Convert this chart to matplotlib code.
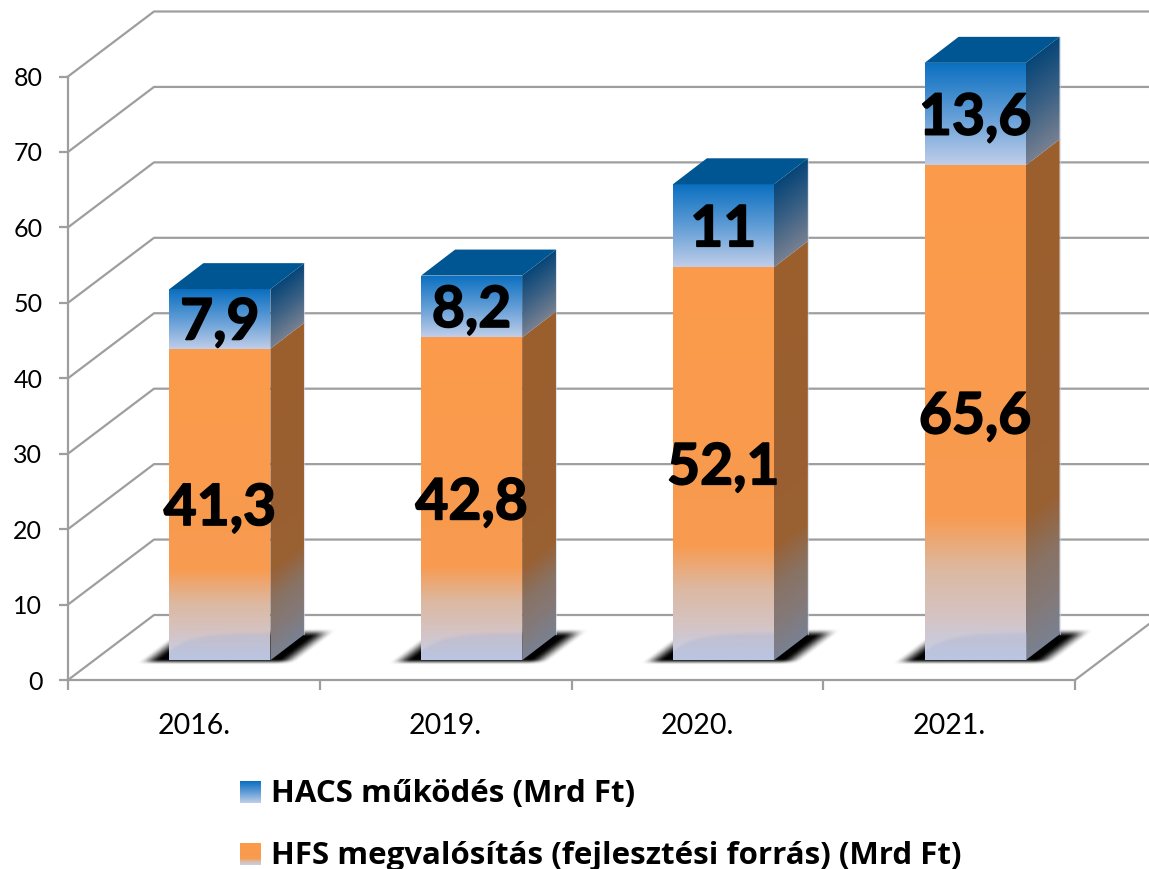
import numpy as np
import matplotlib
matplotlib.use("Agg")
import matplotlib.pyplot as plt
from matplotlib.patches import Polygon
from matplotlib.colors import to_rgb
import matplotlib.patheffects as pe

categories = ["2016.", "2019.", "2020.", "2021."]
hfs_values = [41.3, 42.8, 52.1, 65.6]
hacs_values = [7.9, 8.2, 11.0, 13.6]
hfs_labels = ["41,3", "42,8", "52,1", "65,6"]
hacs_labels = ["7,9", "8,2", "11", "13,6"]
y_ticks = list(range(0, 90, 10))
legend_labels = ["HACS működés (Mrd Ft)", "HFS megvalósítás (fejlesztési forrás) (Mrd Ft)"]

W, H = 1149, 869
AX_L, AX_R, AX_B, AX_T = 68, 1075, 680, 76.5
PX_X = 4 / (AX_R - AX_L)       # data x per pixel
PX_Y = 80 / (AX_B - AX_T)      # data y per pixel

GRID = "#9e9e9e"
WALL = (86 * PX_X, 65 * PX_Y)
DEPTH = (34 * PX_X, 26 * PX_Y)
BAR_W = 101 * PX_X
BAR_SHIFT = 26 * PX_X
BAR_BASE = 19.7 * PX_Y

ORANGE = [(0.0, "#c4d0ea"), (0.09, "#d5c3c2"), (0.18, "#dcb9a2"), (0.29, "#f89b50"), (1.0, "#fb9a4a")]
BLUE = [(0.0, "#c0cee9"), (0.5, "#5f9cd6"), (1.0, "#0a6fc0")]


def ramp(stops, t):
    pos = [s[0] for s in stops]
    cols = np.array([to_rgb(s[1]) for s in stops])
    return np.stack([np.interp(t, pos, cols[:, k]) for k in range(3)], axis=-1)


plt.rcParams["font.family"] = ["Lato", "DejaVu Sans"]
fig = plt.figure(figsize=(W / 100, H / 100), dpi=100)
ax = fig.add_axes([AX_L / W, 1 - AX_B / H, (AX_R - AX_L) / W, (AX_B - AX_T) / H])
ax.set_xlim(-0.5, 3.5)
ax.set_ylim(0, 80)


def show(arr, extent, poly, z):
    im = ax.imshow(arr, extent=extent, origin="lower", aspect="auto",
                   interpolation="bilinear", zorder=z)
    im.set_clip_box(fig.bbox)
    if poly is not None:
        im.set_clip_path(Polygon(poly, closed=True, transform=ax.transData))
    return im


# wall and floor
for v in y_ticks:
    ax.plot([-0.5, -0.5 + WALL[0], 4.5], [v, v + WALL[1], v + WALL[1]],
            color=GRID, lw=1.6, clip_on=False, zorder=1)
ax.plot([3.5, 3.5 + WALL[0]], [0, WALL[1]], color=GRID, lw=1.6, clip_on=False, zorder=1)


def soft(d, s):
    a = np.clip(d / s, 0, 1)
    return a * a * (3 - 2 * a)


def shadow(x0, y0):
    gx = np.linspace(x0 - 50 * PX_X, x0 + BAR_W + 80 * PX_X, 280)
    gy = np.linspace(y0 - 8 * PX_Y, y0 + 38 * PX_Y, 90)
    xx, yy = np.meshgrid(gx, gy)
    v = (yy - y0) / PX_Y
    u = (xx - x0) / PX_X - v * 34 / 26
    a = soft(u + 30, 22) * soft(101 + 30 - u, 22) * soft(v + 5, 6) * soft(32 - v, 9)
    rgba = np.zeros(a.shape + (4,))
    rgba[..., 3] = a
    show(rgba, [gx[0], gx[-1], gy[0], gy[-1]], None, 2)


def segment(x0, y0, h, stops, z):
    x1 = x0 + BAR_W
    dx, dy = DEPTH
    t = np.linspace(0, 1, 300)[:, None]
    show(ramp(stops, t), [x0, x1, y0, y0 + h],
         [(x0, y0), (x1, y0), (x1, y0 + h), (x0, y0 + h)], z)
    gx = np.linspace(x1, x1 + dx, 60)
    gy = np.linspace(y0, y0 + h + dy, 400)
    xx, yy = np.meshgrid(gx, gy)
    tt = np.clip((yy - y0 - (xx - x1) / dx * dy) / h, 0, 1)
    show(ramp(stops, tt) * 0.62, [x1, x1 + dx, y0, y0 + h + dy],
         [(x1, y0), (x1 + dx, y0 + dy), (x1 + dx, y0 + dy + h), (x1, y0 + h)], z + 0.1)
    ax.plot([x1 + dx, x1 + dx], [y0 + dy, y0 + dy + h], color="#c8d4e4", lw=0.8, alpha=0.6,
            clip_on=False, zorder=z + 0.2)


def reflection(x0, y0):
    # floor glow on the lower front face
    gx = np.linspace(x0, x0 + BAR_W, 120)
    gy = np.linspace(y0, y0 + 34 * PX_Y, 50)
    xx, yy = np.meshgrid(gx, gy)
    px = (xx - x0) / PX_X
    v = (yy - y0) / PX_Y
    top = 29 - 18 * np.exp(-px / 22)
    a = 0.36 * soft(top - v, 5)
    rgba = np.zeros(a.shape + (4,))
    rgba[..., :3] = to_rgb("#a9b3d4")
    rgba[..., 3] = a
    show(rgba, [gx[0], gx[-1], gy[0], gy[-1]], None, 3.5)


LABEL_DROP = 4 * PX_Y
stroke = [pe.withStroke(linewidth=1.2, foreground="black")]
for i in range(len(categories)):
    x0 = i + BAR_SHIFT - BAR_W / 2
    x1 = x0 + BAR_W
    y0 = BAR_BASE
    shadow(x0, y0)
    segment(x0, y0, hfs_values[i], ORANGE, 3)
    reflection(x0, y0)
    y1 = y0 + hfs_values[i]
    segment(x0, y1, hacs_values[i], BLUE, 4)
    y2 = y1 + hacs_values[i]
    ax.add_patch(Polygon([(x0, y2), (x1, y2), (x1 + DEPTH[0], y2 + DEPTH[1]),
                          (x0 + DEPTH[0], y2 + DEPTH[1])], closed=True,
                         facecolor="#005692", edgecolor="none", zorder=5, clip_on=False))
    ax.text(i + BAR_SHIFT, y0 + hfs_values[i] / 2 - LABEL_DROP, hfs_labels[i], ha="center", va="center",
            fontsize=41, fontweight="bold", color="black", zorder=10, clip_on=False, path_effects=stroke)
    ax.text(i + BAR_SHIFT, y1 + hacs_values[i] / 2 - LABEL_DROP, hacs_labels[i], ha="center", va="center",
            fontsize=41, fontweight="bold", color="black", zorder=10, clip_on=False, path_effects=stroke)

# axes
for s in ["top", "right"]:
    ax.spines[s].set_visible(False)
for s in ["left", "bottom"]:
    ax.spines[s].set_color(GRID)
    ax.spines[s].set_linewidth(1.6)
ax.patch.set_alpha(0)
ax.set_yticks(y_ticks)
ax.set_yticklabels([str(v) for v in y_ticks], fontsize=18, color="black")
ax.set_xticks(np.arange(-0.5, 4, 1))
ax.set_xticklabels([])
ax.set_xticks(np.arange(len(categories)), minor=True)
ax.set_xticklabels(categories, minor=True, fontsize=20.5, color="black")
ax.tick_params(axis="y", length=6.5, width=1.6, color=GRID, pad=12)
ax.tick_params(axis="x", which="major", length=7, width=1.6, color=GRID)
ax.tick_params(axis="x", which="minor", length=0, pad=24)

# legend
swatches = [(781, BLUE), (843, ORANGE)]
for (top, stops), label in zip(swatches, legend_labels):
    sax = fig.add_axes([240 / W, 1 - (top + 22) / H, 21 / W, 22 / H])
    sax.imshow(ramp(stops, np.linspace(0, 1, 64)[:, None]), origin="lower", aspect="auto",
               interpolation="bilinear")
    sax.axis("off")
    fig.text(271 / W, 1 - (top + 13) / H, label, ha="left", va="center",
             fontsize=22.5, fontweight="bold", color="black", family=["Open Sans", "DejaVu Sans"])

fig.savefig("out.png", dpi=100)
